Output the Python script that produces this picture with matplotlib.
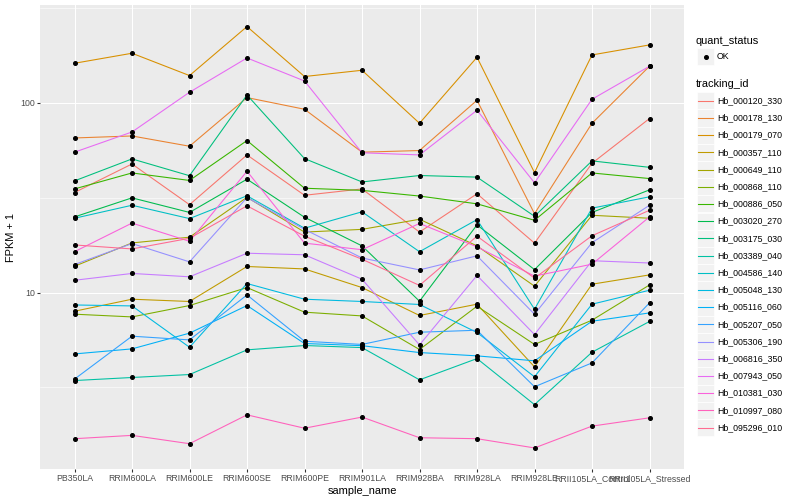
import numpy as np
import matplotlib.pyplot as plt
from matplotlib.patches import Rectangle
from matplotlib.lines import Line2D
from matplotlib.ticker import FixedLocator, NullFormatter

plt.rcParams['font.family'] = ['Liberation Sans', 'DejaVu Sans']

OUTPUT = 'out.png'
W, H = 800, 500

samples = ['PB350LA', 'RRIM600LA', 'RRIM600LE', 'RRIM600SE', 'RRIM600PE', 'RRIM901LA',
           'RRIM928BA', 'RRIM928LA', 'RRIM928LE', 'RRII105LA_Control', 'RRII105LA_Stressed']

# FPKM + 1 per sample
hb_000120_330 = [33.6, 47.5, 29.0, 53.0, 32.5, 35.1, 20.8, 33.1, 18.2, 47.9, 82.4]
hb_000178_130 = [65.1, 66.7, 58.9, 106.2, 92.2, 54.8, 55.9, 102.8, 26.0, 77.8, 155.3]
hb_000179_070 = [161.0, 181.8, 138.7, 251.2, 137.1, 147.9, 77.8, 173.1, 42.8, 178.1, 201.1]
hb_000357_110 = [7.97, 9.22, 8.97, 13.71, 13.31, 10.62, 7.57, 8.68, 4.06, 11.06, 12.38]
hb_000649_110 = [13.75, 18.24, 19.55, 31.7, 20.8, 21.5, 24.3, 17.6, 10.8, 25.5, 24.6]
hb_000868_110 = [7.69, 7.44, 8.54, 10.62, 7.88, 7.53, 5.01, 8.47, 5.33, 7.15, 10.96]
hb_000886_050 = [35.1, 42.6, 38.9, 63.1, 35.4, 34.5, 32.2, 29.3, 24.0, 42.6, 39.8]
hb_003020_270 = [25.0, 31.5, 26.4, 39.5, 24.9, 17.6, 9.00, 22.7, 13.2, 26.4, 34.7]
hb_003175_030 = [38.7, 50.5, 41.2, 109.6, 50.7, 38.2, 41.3, 40.5, 25.2, 49.3, 45.6]
hb_003389_040 = [3.44, 3.57, 3.70, 4.99, 5.26, 5.13, 3.47, 4.49, 2.57, 4.85, 7.04]
hb_004586_140 = [24.6, 28.8, 24.5, 32.3, 21.8, 26.6, 16.4, 24.2, 8.17, 27.8, 31.9]
hb_005048_130 = [8.60, 8.50, 5.15, 11.15, 9.22, 8.97, 8.65, 6.16, 3.60, 8.68, 10.28]
hb_005116_060 = [4.75, 5.05, 6.11, 8.54, 5.39, 5.25, 4.83, 4.64, 4.37, 7.06, 7.81]
hb_005207_050 = [3.50, 5.89, 5.63, 9.71, 5.54, 5.33, 6.18, 6.33, 3.19, 4.26, 8.82]
hb_005306_190 = [14.04, 18.1, 14.5, 31.6, 21.5, 15.2, 13.15, 15.6, 7.69, 18.3, 28.8]
hb_006816_350 = [11.6, 12.6, 12.1, 16.1, 15.8, 11.75, 5.30, 12.3, 6.01, 14.7, 14.3]
hb_007943_050 = [54.8, 70.0, 113.3, 171.7, 129.9, 54.4, 53.0, 91.1, 37.8, 104.1, 155.3]
hb_010381_030 = [16.4, 23.2, 18.6, 43.5, 18.2, 16.8, 23.1, 17.4, 12.2, 14.1, 25.0]
hb_010997_080 = [1.70, 1.77, 1.60, 2.27, 1.93, 2.21, 1.72, 1.70, 1.52, 1.98, 2.19]
hb_095296_010 = [17.8, 16.96, 19.3, 28.6, 19.8, 14.97, 10.9, 19.8, 11.9, 19.9, 27.1]

tracking_ids = ['Hb_000120_330', 'Hb_000178_130', 'Hb_000179_070', 'Hb_000357_110',
                'Hb_000649_110', 'Hb_000868_110', 'Hb_000886_050', 'Hb_003020_270',
                'Hb_003175_030', 'Hb_003389_040', 'Hb_004586_140', 'Hb_005048_130',
                'Hb_005116_060', 'Hb_005207_050', 'Hb_005306_190', 'Hb_006816_350',
                'Hb_007943_050', 'Hb_010381_030', 'Hb_010997_080', 'Hb_095296_010']

series = [hb_000120_330, hb_000178_130, hb_000179_070, hb_000357_110, hb_000649_110,
          hb_000868_110, hb_000886_050, hb_003020_270, hb_003175_030, hb_003389_040,
          hb_004586_140, hb_005048_130, hb_005116_060, hb_005207_050, hb_005306_190,
          hb_006816_350, hb_007943_050, hb_010381_030, hb_010997_080, hb_095296_010]

# ggplot default hue palette for 20 levels
colours = ['#F8766D', '#EA8331', '#D89000', '#C09B00', '#A3A500', '#7CAE00', '#39B600',
           '#00BB4E', '#00BF7D', '#00C1A3', '#00BFC4', '#00BAE0', '#00B0F6', '#35A2FF',
           '#9590FF', '#C77CFF', '#E76BF3', '#FA62DB', '#FF62BC', '#FF6C91']

status_levels = ['OK']

# setup a figure
fig = plt.figure(figsize=(W / 100, H / 100), dpi=100)
ax = fig.add_axes([40 / W, 31 / H, 644 / W, 463.5 / H])
ax.set_facecolor('#EBEBEB')
for s in ax.spines.values():
    s.set_visible(False)

x = np.arange(len(samples))
for vals, col in zip(series, colours):
    ax.plot(x, vals, color=col, lw=0.78, zorder=3, solid_capstyle='butt')
for vals in series:
    ax.plot(x, vals, ls='none', marker='o', ms=2.6, color='black', mec='black', zorder=4)

# log scale with ggplot-ish limits (5% expansion in log space)
ax.set_yscale('log')
allv = np.log10(np.concatenate([np.asarray(v) for v in series]))
lo, hi = allv.min(), allv.max()
pad = 0.05 * (hi - lo)
ax.set_ylim(10 ** (lo - pad), 10 ** (hi + pad))
ax.set_xlim(-0.6, len(samples) - 0.4)

ax.yaxis.set_major_locator(FixedLocator([10, 100]))
ax.yaxis.set_minor_locator(FixedLocator([10 ** 0.5, 10 ** 1.5, 10 ** 2.5]))
ax.yaxis.set_minor_formatter(NullFormatter())
ax.set_yticklabels(['10', '100'])
ax.set_xticks(x)
ax.set_xticklabels(samples)

ax.grid(True, which='major', color='white', lw=0.78, zorder=0)
ax.grid(True, which='minor', axis='y', color='white', lw=0.4, zorder=0)
ax.set_axisbelow(True)
ax.tick_params(axis='both', which='major', length=2.0, width=0.78, color='#333333',
               labelsize=6.3, labelcolor='#4D4D4D', pad=1.6)
ax.tick_params(axis='y', which='minor', length=0)

ax.set_xlabel('sample_name', fontsize=7.9, labelpad=2.5)
ax.set_ylabel('FPKM + 1', fontsize=7.9, labelpad=3)

# legends, drawn ggplot style
def fx(px):
    return px / W

def fy(py):
    return 1 - py / H

key_x, key_w, key_h = 697, 17.2, 17.2
fig.text(fx(696), fy(40.7), 'quant_status', fontsize=7.9, va='center', ha='left')
for i, lev in enumerate(status_levels):
    cy = 56.7 + i * key_h
    fig.add_artist(Rectangle((fx(key_x), fy(cy + key_h / 2)), key_w / W, key_h / H,
                             transform=fig.transFigure, facecolor='#F2F2F2',
                             edgecolor='white', lw=0.5))
    fig.add_artist(Line2D([fx(key_x + key_w / 2)], [fy(cy)], transform=fig.transFigure,
                          marker='o', ms=2.6, color='black', ls='none'))
    fig.text(fx(717), fy(cy), lev, fontsize=6.3, va='center', ha='left')

fig.text(fx(696), fy(84), 'tracking_id', fontsize=7.9, va='center', ha='left')
for i, (name, col) in enumerate(zip(tracking_ids, colours)):
    cy = 100.7 + i * key_h
    fig.add_artist(Rectangle((fx(key_x), fy(cy + key_h / 2)), key_w / W, key_h / H,
                             transform=fig.transFigure, facecolor='#F2F2F2',
                             edgecolor='white', lw=0.5))
    fig.add_artist(Line2D([fx(key_x + 1), fx(key_x + key_w - 1)], [fy(cy), fy(cy)],
                          transform=fig.transFigure, color=col, lw=0.78))
    fig.text(fx(717), fy(cy), name, fontsize=6.3, va='center', ha='left')

fig.savefig(OUTPUT, dpi=100)
